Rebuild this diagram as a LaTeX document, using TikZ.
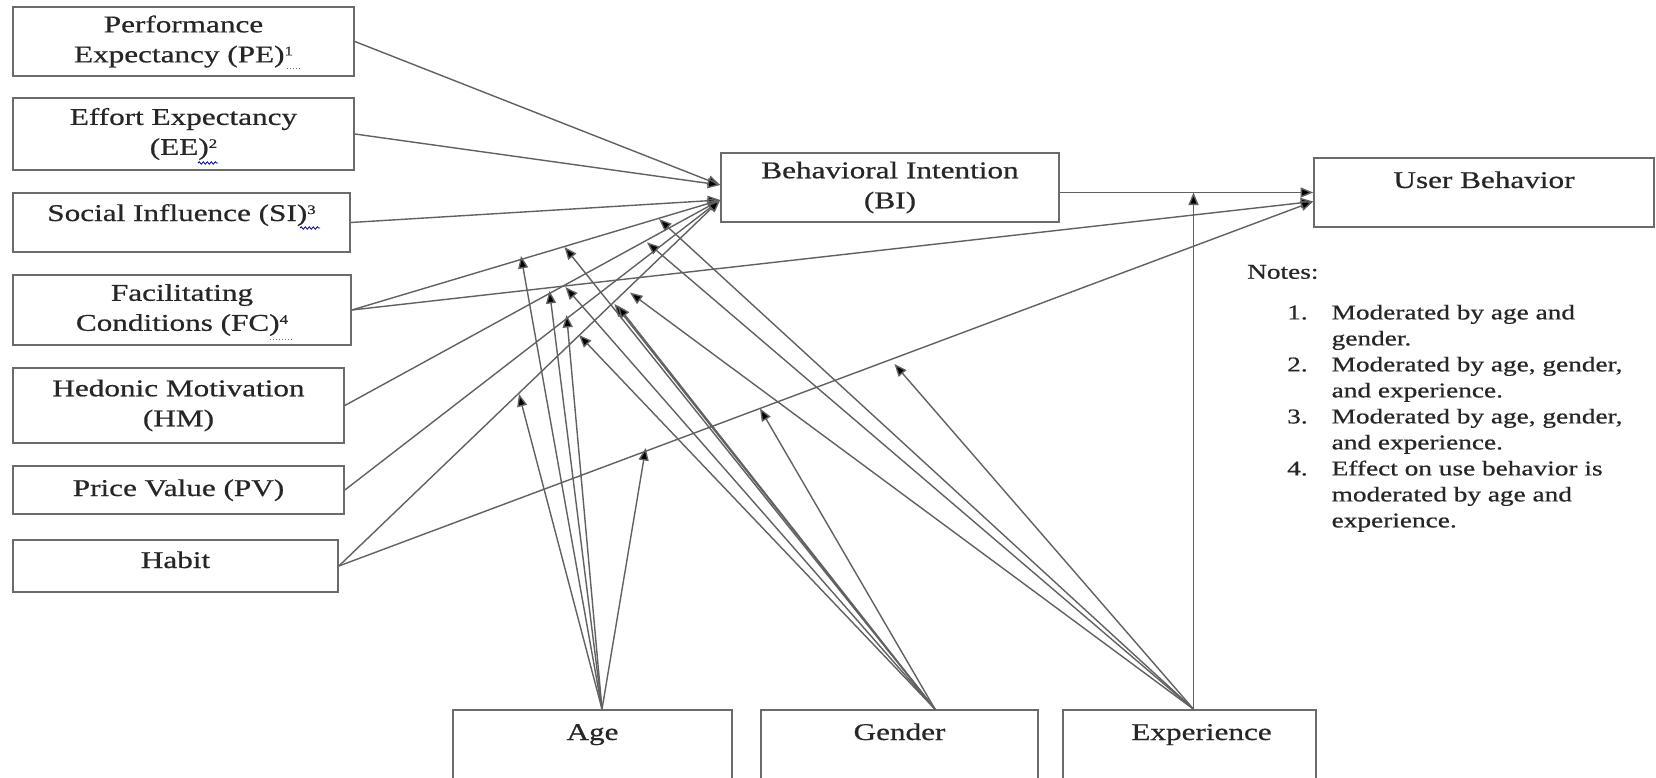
\documentclass[tikz,border=0pt]{standalone}
\usepackage{fontspec}
\setmainfont{Liberation Serif}[FakeStretch=1.3,FakeBold=0.6]
\usetikzlibrary{arrows.meta,decorations.pathmorphing}
\newcommand{\upnum}[1]{\raisebox{7pt}{\fontsize{13}{13}\selectfont #1}}
\begin{document}
\begin{tikzpicture}[x=1pt,y=-1pt,
  box/.style={draw=black!58, line width=1.7pt, rectangle, inner sep=0pt, align=center,
    text=black!85, font=\fontsize{24}{30}\selectfont},
  conn/.style={draw=black!62, line width=1.4pt, -{Triangle[length=12.5pt,width=10pt,fill=black]}},
  notefont/.style={font=\fontsize{21}{26}\selectfont, text=black!85, inner sep=0pt},
  squig/.style={draw=blue!65!black, line width=0.8pt, decorate, decoration={snake, amplitude=1.2pt, segment length=4pt}},
  dots/.style={draw=blue!40!black!60, line width=1pt, dotted}]
\fill[white] (0,0) rectangle (1656,778);
\useasboundingbox (0,0) rectangle (1656,778);

% constructs
\node[box, minimum width=341pt, minimum height=69pt] (PE) at (183.5,41.5) {Performance\\Expectancy (PE)\upnum{1}};
\node[box, minimum width=341pt, minimum height=72pt] (EE) at (183.5,134) {Effort Expectancy\\(EE)\upnum{2}};
\node[box, minimum width=337pt, text height=28pt, text depth=31pt] (SI) at (181.5,222.5) {Social Influence (SI)\upnum{3}};
\node[box, minimum width=338pt, minimum height=70pt] (FC) at (182,310) {Facilitating\\Conditions (FC)\upnum{4}};
\node[box, minimum width=331pt, minimum height=75pt] (HM) at (178.5,405.5) {Hedonic Motivation\\(HM)};
\node[box, minimum width=331pt, text height=30pt, text depth=18pt] (PV) at (178.5,490) {Price Value (PV)};
\node[box, minimum width=325pt, text height=28pt, text depth=24pt] (HB) at (175.5,566) {Habit};
\node[box, minimum width=338pt, minimum height=69pt] (BI) at (890,187.5) {Behavioral Intention\\(BI)};
\node[box, minimum width=340pt, text height=30pt, text depth=39pt] (UB) at (1484,192.5) {User Behavior};

% spelling marks under the superscripts
\draw[dots] (287,69) -- (300,69);
\draw[squig] (198,163) -- (218,163);
\draw[squig] (300,228) -- (320,228);
\draw[dots] (270,339) -- (293,339);

% moderators
\node[box, minimum width=279pt, text height=30pt, text depth=60pt] (AG) at (592.5,755) {Age};
\node[box, minimum width=277pt, text height=30pt, text depth=60pt] (GE) at (899.5,755) {Gender};
\node[box, minimum width=253pt, text height=30pt, text depth=60pt] (EX) at (1189.5,755) {\hspace*{24pt}Experience};

% notes
\node[notefont, anchor=west] (nt) at (1247,272) {Notes:};
\node[notefont, anchor=north west] (nl) at (1287,301) {\begin{tabular}{@{}r@{\hspace{24pt}}l@{}}
1. & Moderated by age and\\
   & gender.\\
2. & Moderated by age, gender,\\
   & and experience.\\
3. & Moderated by age, gender,\\
   & and experience.\\
4. & Effect on use behavior is\\
   & moderated by age and\\
   & experience.
\end{tabular}};

% sources of moderator arrows
\coordinate (sA) at ([xshift=9.5pt]AG.north);
\coordinate (sG) at ([xshift=35.5pt]GE.north);
\coordinate (sX) at ([xshift=4pt]EX.north);

% arrow tips of moderator arrows
\coordinate (ta) at (521,256);
\coordinate (te) at (549.5,291);
\coordinate (tg) at (566.6,315);
\coordinate (tk) at (519,394);
\coordinate (tl) at (645.7,448);
\coordinate (tb) at (564.5,247);
\coordinate (tf) at (565.4,287);
\coordinate (tj) at (579,335);
\coordinate (th) at (614.5,304);
\coordinate (th2) at (617.5,305.5);
\coordinate (tm) at (760,408.5);
\coordinate (tc) at (659,219);
\coordinate (td) at (647,242.4);
\coordinate (ti) at (630,292.6);
\coordinate (tn) at (894.4,364);

% main paths
\draw[conn] (PE.east) -- ([yshift=2.5pt]BI.west);
\draw[conn] (EE.east) -- ([yshift=2.5pt]BI.west);
\draw[conn] (SI.east) -- ([yshift=-12.5pt]BI.west);
\draw[conn] (FC.east) -- ([yshift=-12.5pt]BI.west);
\draw[conn] (HM.east) -- ([yshift=-12.5pt]BI.west);
\draw[conn] (PV.east) -- ([yshift=-12.5pt]BI.west);
\draw[conn] (HB.east) -- ([yshift=-12.5pt]BI.west);
\draw[conn] (FC.east) -- ([yshift=-9pt]UB.west);
\draw[conn] (HB.east) -- ([yshift=-9pt]UB.west);
\draw[conn] (BI.east |- UB.west) -- (UB.west);

% moderating paths
\foreach \t in {ta,te,tg,tk,tl} \draw[conn] (sA) -- (\t);
\foreach \t in {tb,tf,tj,th,th2,tm} \draw[conn] (sG) -- (\t);
\foreach \t in {tc,td,ti,tn} \draw[conn] (sX) -- (\t);
\draw[conn] (sX) -- (sX |- UB.west);
\end{tikzpicture}
\end{document}
